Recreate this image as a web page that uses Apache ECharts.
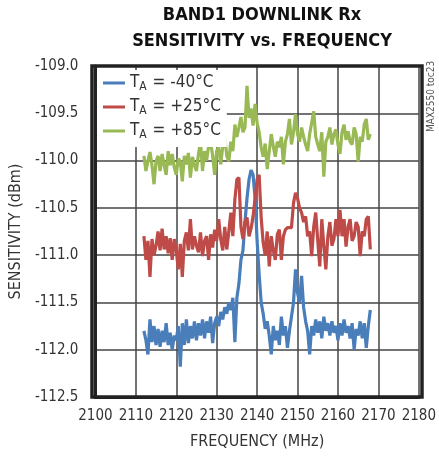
<!DOCTYPE html>
<html>
<head>
<meta charset="utf-8">
<script src="https://cdn.jsdelivr.net/npm/echarts@6/dist/echarts.min.js"></script>
<style>
html,body{margin:0;padding:0;background:#fff;}
#chart{width:439px;height:459px;}
</style>
</head>
<body>
<div id="chart"></div>
<script>
const titleLines = ["BAND1 DOWNLINK Rx", "SENSITIVITY vs. FREQUENCY"];
const xAxisName = "FREQUENCY (MHz)";
const yAxisName = "SENSITIVITY (dBm)";
const sideNote = "MAX2550 toc23";
const seriesNames = ["-40°C", "+25°C", "+85°C"];
const xTicks = [2100, 2110, 2120, 2130, 2140, 2150, 2160, 2170, 2180];
const yTicks = [-112.5, -112.0, -111.5, -111.0, -110.5, -110.0, -109.5, -109.0];

const freqMHz = [
2112.0,2112.5,2113.0,2113.5,2114.0,2114.5,2115.0,2115.5,2116.0,2116.5,
2117.0,2117.5,2118.0,2118.5,2119.0,2119.5,2120.0,2120.5,2121.0,2121.5,
2122.0,2122.5,2123.0,2123.5,2124.0,2124.5,2125.0,2125.5,2126.0,2126.5,
2127.0,2127.5,2128.0,2128.5,2129.0,2129.5,2130.0,2130.5,2131.0,2131.5,
2132.0,2132.5,2133.0,2133.5,2134.0,2134.5,2135.0,2135.5,2136.0,2136.5,
2137.0,2137.5,2138.0,2138.5,2139.0,2139.5,2140.0,2140.5,2141.0,2141.5,
2142.0,2142.5,2143.0,2143.5,2144.0,2144.5,2145.0,2145.5,2146.0,2146.5,
2147.0,2147.5,2148.0,2148.5,2149.0,2149.5,2150.0,2150.5,2151.0,2151.5,
2152.0,2152.5,2153.0,2153.5,2154.0,2154.5,2155.0,2155.5,2156.0,2156.5,
2157.0,2157.5,2158.0,2158.5,2159.0,2159.5,2160.0,2160.5,2161.0,2161.5,
2162.0,2162.5,2163.0,2163.5,2164.0,2164.5,2165.0,2165.5,2166.0,2166.5,
2167.0,2167.5,2168.0
];

const sensM40 = [
-111.80,-111.90,-112.05,-111.68,-111.92,-111.75,-111.95,-111.78,-111.97,-111.80,
-111.92,-111.72,-111.95,-111.82,-112.00,-111.85,-111.90,-111.75,-112.18,-111.72,
-111.95,-111.68,-111.93,-111.75,-111.88,-111.70,-111.90,-111.72,-111.85,-111.68,
-111.88,-111.70,-111.82,-111.65,-111.93,-111.72,-111.65,-111.75,-111.60,-111.68,
-111.55,-111.62,-111.50,-111.58,-111.45,-111.92,-111.45,-111.30,-111.05,-110.95,
-110.65,-110.40,-110.20,-110.10,-110.15,-110.40,-110.85,-111.20,-111.50,-111.62,
-111.78,-111.70,-111.85,-112.05,-111.75,-111.90,-111.80,-111.95,-111.65,-111.85,
-111.75,-111.98,-111.80,-111.65,-111.50,-111.15,-111.40,-111.50,-111.22,-111.55,
-111.70,-111.80,-112.05,-111.75,-111.85,-111.68,-111.82,-111.70,-111.88,-111.65,
-111.80,-111.72,-111.85,-111.70,-111.82,-111.75,-111.90,-111.72,-111.85,-111.68,
-111.82,-111.75,-111.88,-111.72,-112.00,-111.78,-111.85,-111.70,-111.88,-111.72,
-111.98,-111.75,-111.58
];

const sensP25 = [
-110.80,-111.05,-110.85,-111.23,-110.83,-111.00,-110.90,-110.75,-110.95,-110.72,
-110.94,-110.80,-110.98,-110.82,-111.05,-110.83,-110.95,-111.15,-110.88,-111.23,
-110.85,-110.76,-110.95,-110.62,-110.94,-110.80,-110.90,-110.97,-110.76,-111.01,
-110.85,-110.80,-111.05,-110.78,-110.92,-110.73,-110.85,-110.62,-110.83,-110.95,
-110.70,-110.94,-110.75,-110.55,-110.80,-110.41,-110.20,-110.18,-110.70,-110.83,
-110.65,-110.60,-110.80,-110.72,-110.59,-110.40,-110.20,-110.15,-110.60,-110.87,
-111.00,-110.75,-111.12,-110.80,-110.95,-111.05,-110.78,-110.73,-111.05,-110.80,
-110.73,-110.71,-110.71,-110.71,-110.45,-110.34,-110.40,-110.50,-110.55,-110.65,
-110.59,-110.80,-110.75,-111.01,-110.70,-110.55,-110.85,-111.12,-110.62,-110.90,
-111.15,-110.80,-110.65,-110.90,-110.83,-110.62,-110.80,-110.52,-110.80,-110.62,
-110.91,-110.70,-110.62,-110.85,-110.80,-110.65,-110.70,-111.01,-110.75,-110.80,
-110.62,-110.59,-110.94
];

const sensP85 = [
-109.95,-110.11,-110.00,-109.91,-110.05,-110.25,-110.01,-109.95,-110.11,-109.93,
-110.05,-110.15,-109.90,-110.05,-109.93,-110.07,-110.15,-109.98,-110.01,-110.22,
-109.95,-110.04,-109.92,-110.18,-109.96,-110.05,-110.11,-109.93,-109.80,-110.11,
-109.90,-110.00,-109.85,-109.80,-109.95,-110.15,-109.90,-109.86,-110.04,-109.85,
-109.75,-109.95,-110.01,-109.80,-109.90,-109.62,-109.75,-109.65,-109.54,-109.70,
-109.65,-109.21,-109.55,-109.45,-109.63,-109.40,-109.60,-109.70,-109.86,-109.96,
-109.82,-110.09,-109.90,-109.72,-109.85,-109.96,-109.80,-109.86,-109.75,-110.04,
-109.80,-109.72,-109.56,-109.83,-109.70,-109.51,-109.72,-109.80,-109.65,-109.75,
-109.83,-109.90,-109.72,-109.60,-109.48,-109.75,-109.83,-109.90,-109.70,-110.17,
-109.80,-109.75,-109.65,-109.83,-109.72,-109.67,-109.83,-109.93,-109.70,-109.62,
-109.78,-109.69,-109.80,-109.83,-109.65,-109.72,-110.01,-109.75,-109.80,-109.62,
-109.56,-109.78,-109.72
];

const colors = ["#4a7ebb", "#be4b48", "#98b954"];
const FONT = "'DejaVu Sans Condensed', 'Liberation Sans Narrow', 'Liberation Sans', sans-serif";

function pairs(vals){ return freqMHz.map((f, i) => [f, vals[i]]); }

const chart = echarts.init(document.getElementById('chart'), null, {renderer: 'canvas'});
const seriesVals = [sensM40, sensP25, sensP85];

const option = {
  animation: false,
  backgroundColor: '#fff',
  title: {
    text: titleLines.join('\n'),
    left: 257, top: -3, textAlign: 'center',
    textStyle: {fontFamily: FONT, fontWeight: 'bold', fontSize: 18, lineHeight: 26, color: '#111'}
  },
  grid: {left: 92, top: 66, width: 330, height: 331, containLabel: false},
  legend: {
    left: 97, top: 70, orient: 'vertical',
    backgroundColor: '#fff', padding: [3, 6, 6, 6],
    itemWidth: 22, itemHeight: 3, itemGap: 4,
    icon: 'rect',
    data: seriesNames,
    formatter: n => '{t|T}{s|A}{t| = ' + n + '}',
    textStyle: {
      fontFamily: FONT, color: '#333',
      rich: {
        t: {fontFamily: FONT, fontSize: 17, color: '#333', lineHeight: 18},
        s: {fontFamily: FONT, fontSize: 12, color: '#333', padding: [8,1,0,0], lineHeight: 18}
      }
    }
  },
  xAxis: {
    type: 'value', min: xTicks[0], max: xTicks[xTicks.length-1], interval: 10,
    name: xAxisName, nameLocation: 'middle', nameGap: 37,
    nameTextStyle: {fontFamily: FONT, fontSize: 16, color: '#333'},
    axisLine: {show: true, onZero: false, lineStyle: {color: '#222', width: 3}},
    axisTick: {show: false},
    axisLabel: {fontFamily: FONT, fontSize: 15, color: '#333', margin: 12,
      showMinLabel: true, showMaxLabel: true, hideOverlap: false, formatter: v => String(v)},
    splitLine: {show: true, lineStyle: {color: '#444', width: 1.5}}
  },
  yAxis: {
    type: 'value', min: yTicks[0], max: yTicks[yTicks.length-1], interval: 0.5,
    name: yAxisName, nameLocation: 'middle', nameGap: 62, nameRotate: 90,
    nameTextStyle: {fontFamily: FONT, fontSize: 16, color: '#333'},
    axisLine: {show: true, onZero: false, lineStyle: {color: '#222', width: 3}},
    axisTick: {show: false},
    axisLabel: {fontFamily: FONT, fontSize: 15, color: '#333', margin: 17, formatter: v => v.toFixed(1)},
    splitLine: {show: true, lineStyle: {color: '#444', width: 1.5}}
  },
  graphic: [
    {type: 'rect', z: 100, shape: {x: 92, y: 66, width: 330, height: 331}, style: {fill: 'none', stroke: '#222', lineWidth: 3.5}, silent: true},
    {type: 'text', x: 426, y: 132, rotation: Math.PI/2,
     style: {text: sideNote, fontFamily: FONT, fontSize: 10, fill: '#555', textAlign: 'left', textVerticalAlign: 'top'}}
  ],
  series: seriesNames.map((n, i) => ({
    name: n, type: 'line', data: pairs(seriesVals[i]),
    showSymbol: false, symbol: 'none',
    lineStyle: {color: colors[i], width: 3.2},
    itemStyle: {color: colors[i]},
    z: 3
  }))
};
chart.setOption(option);
</script>
</body>
</html>
